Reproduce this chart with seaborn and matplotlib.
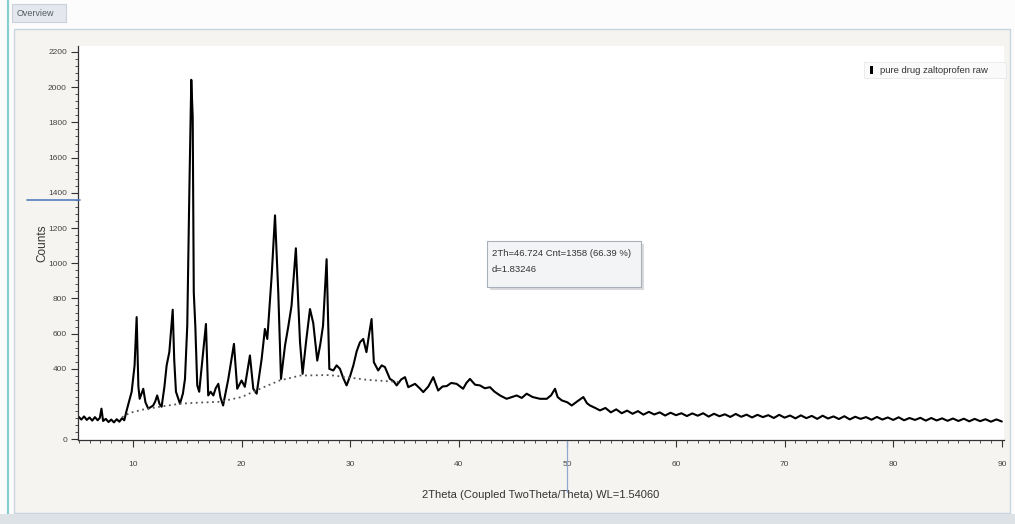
import matplotlib
matplotlib.use("Agg")
import matplotlib.pyplot as plt
from matplotlib.patches import Rectangle
from matplotlib.lines import Line2D
from matplotlib.ticker import MultipleLocator, FixedLocator
import seaborn as sns
import pandas as pd

# Diffractogram of the pure drug (2theta in degrees, intensity in counts)
two_theta = [5.0, 5.25, 5.5, 5.75, 6.0, 6.25, 6.5, 6.75, 6.95, 7.1, 7.25, 7.5, 7.75, 8.0,
             8.25, 8.5, 8.75, 9.0, 9.2, 9.42, 9.88,
             10.15, 10.34, 10.5, 10.62, 10.95, 11.15, 11.41, 11.86, 12.05, 12.23, 12.45, 12.64,
             12.9, 13.1, 13.35, 13.66, 13.8, 13.96, 14.33, 14.6, 14.79, 15.0, 15.19, 15.37,
             15.5, 15.6, 15.74, 15.92, 16.1, 16.4, 16.72, 16.93, 17.15, 17.4, 17.62, 17.86,
             18.05, 18.3, 18.55, 18.78, 19.3, 19.6, 20.0, 20.3, 20.77, 21.08, 21.39, 21.85,
             22.15, 22.37, 22.77, 23.08, 23.38, 23.63, 24.0, 24.3, 24.6, 25.0, 25.38, 25.62,
             25.95, 26.3, 26.6, 26.97, 27.25, 27.5, 27.83, 28.08, 28.45, 28.75, 29.06, 29.35,
             29.67, 30.0, 30.29, 30.6, 30.9, 31.2, 31.5, 31.75, 31.97, 32.18, 32.58, 32.9,
             33.2, 33.66, 34.0, 34.28, 34.7, 35.05, 35.35, 35.97, 36.4, 36.73, 37.2, 37.65,
             38.1, 38.5, 38.88, 39.3, 39.8, 40.4, 40.7, 41.03, 41.5, 41.95, 42.4, 42.87,
             43.3, 43.8, 44.4, 44.9, 45.33, 45.8, 46.25, 46.8, 47.48, 48.1, 48.5, 48.86,
             49.1, 49.48, 50.0, 50.4, 50.9, 51.47, 51.8, 52.08, 52.5,
             53.0, 53.5, 54.0, 54.5, 55.0, 55.5, 56.0, 56.5, 57.0, 57.5, 58.0, 58.5, 59.0,
             59.5, 60.0, 60.5, 61.0, 61.5, 62.0, 62.5, 63.0, 63.5, 64.0, 64.5, 65.0, 65.5,
             66.0, 66.5, 67.0, 67.5, 68.0, 68.5, 69.0, 69.5, 70.0, 70.5, 71.0, 71.5, 72.0,
             72.5, 73.0, 73.5, 74.0, 74.5, 75.0, 75.5, 76.0, 76.5, 77.0, 77.5, 78.0, 78.5,
             79.0, 79.5, 80.0, 80.5, 81.0, 81.5, 82.0, 82.5, 83.0, 83.5, 84.0, 84.5, 85.0,
             85.5, 86.0, 86.5, 87.0, 87.5, 88.0, 88.5, 89.0, 89.5, 90.0]
counts = [128, 112, 130, 110, 124, 106, 126, 108, 122, 174, 104, 116, 98, 112,
          96, 114, 100, 120, 108, 164, 270,
          420, 694, 300, 230, 287, 210, 174, 192, 215, 249, 200, 185,
          300, 419, 496, 736, 450, 270, 202, 260, 343, 645, 1402, 2042,
          1834, 835, 645, 306, 270, 457, 655, 249, 270, 249, 290, 315,
          240, 192, 270, 343, 542, 287, 334, 298, 476, 287, 259, 457,
          627, 570, 928, 1272, 834, 343, 532, 640, 758, 1085, 553, 372,
          560, 740, 660, 447, 540, 645, 1023, 400, 391, 420, 400, 350,
          306, 360, 419, 500, 551, 570, 495, 600, 683, 438, 391, 420,
          410, 343, 330, 306, 340, 353, 296, 315, 290, 268, 300, 353,
          277, 300, 302, 320, 315, 287, 320, 343, 310, 306, 290, 296,
          270, 249, 230, 240, 249, 235, 259, 240, 230, 230, 250, 287,
          240, 221, 210, 192, 215, 240, 205, 192, 180,
          164, 178, 153, 170, 148, 163, 145, 160, 140, 156, 141, 153, 135,
          151, 137, 148, 132, 147, 134, 148, 129, 145, 131, 142, 127, 144,
          128, 140, 124, 139, 126, 137, 121, 139, 123, 135, 119, 136, 120,
          133, 116, 134, 118, 130, 115, 131, 113, 128, 116, 126, 111, 127,
          112, 124, 110, 125, 108, 121, 110, 122, 106, 121, 107, 119, 105,
          118, 104, 117, 102, 116, 103, 114, 100, 113, 101]

# Fitted amorphous background under the crystalline peaks
background_theta = [9.0, 9.7, 11.0, 12.5, 14.33, 16.0, 18.0, 20.0, 21.7, 23.5, 25.4,
                    28.1, 30.0, 31.5, 33.0, 34.5]
background_counts = [125, 150, 170, 185, 202, 208, 213, 240, 287, 334, 362,
                     365, 350, 338, 332, 325]

x_ticks = [10, 20, 30, 40, 50, 60, 70, 80, 90]
y_ticks = [0, 400, 600, 800, 1000, 1200, 1400, 1600, 1800, 2000, 2200]

series_name = "pure drug zaltoprofen raw"
x_title = "2Theta (Coupled TwoTheta/Theta) WL=1.54060"
y_title = "Counts"
cursor_lines = ["2Th=46.724 Cnt=1358 (66.39 %)", "d=1.83246"]

pattern = pd.DataFrame({"two_theta": two_theta, "counts": counts})
background = pd.DataFrame({"two_theta": background_theta, "counts": background_counts})

sns.set_theme(style="white")
plt.rcParams["font.family"] = ["Liberation Sans", "DejaVu Sans"]

W, H = 1015, 524
fig = plt.figure(figsize=(W / 100, H / 100), dpi=100)
fig.patch.set_facecolor("#fcfcfc")


def px(x, y):
    """Pixel position (from top-left) to figure fraction."""
    return x / W, 1 - y / H


# Window chrome: tab, panel, side stripe and bottom band
fig.patches.append(Rectangle(px(14, 513), (1010 - 14) / W, (513 - 29) / H,
                             transform=fig.transFigure, facecolor="#f6f4f1",
                             edgecolor="#c9d5de", linewidth=1.0, zorder=-2))
fig.patches.append(Rectangle(px(12, 22), (66 - 12) / W, 18 / H,
                             transform=fig.transFigure, facecolor="#e4e8ee",
                             edgecolor="#c9d2da", linewidth=0.8, zorder=-2))
fig.text(*px(17, 13), "Overview", fontsize=6.5, color="#555b66", va="center", ha="left")
fig.lines.append(Line2D([8 / W, 8 / W], [0, 1], transform=fig.transFigure,
                        color="#86cfcf", linewidth=1.6, zorder=-1))
fig.patches.append(Rectangle((0, 0), 1, 10 / H, transform=fig.transFigure,
                             facecolor="#dde2e6", edgecolor="none", zorder=-1))

# Plot area
left, right, top, bottom = 78, 1004, 46, 440
ax = fig.add_axes([left / W, 1 - bottom / H, (right - left) / W, (bottom - top) / H])
ax.set_zorder(1)
ax.set_facecolor("white")

sns.lineplot(data=pattern, x="two_theta", y="counts", ax=ax, color="black",
             linewidth=1.5, estimator=None, sort=False, legend=False)
sns.lineplot(data=background, x="two_theta", y="counts", ax=ax, color="#555555",
             linewidth=1.3, linestyle=(0, (1, 2)), estimator=None, sort=False, legend=False)

ax.set_xlim(4.94, 90.2)
ax.set_ylim(-4, 2234)
ax.xaxis.set_major_locator(FixedLocator(x_ticks))
ax.xaxis.set_minor_locator(MultipleLocator(1))
ax.yaxis.set_major_locator(FixedLocator(y_ticks))
ax.yaxis.set_minor_locator(MultipleLocator(40))
ax.tick_params(axis="x", which="major", direction="out", length=5, width=0.8,
               color="#333333", labelsize=6, labelcolor="#444444", pad=10)
ax.tick_params(axis="y", which="major", direction="out", length=5, width=0.8,
               color="#333333", labelsize=6, labelcolor="#444444", pad=3)
ax.tick_params(axis="both", which="minor", direction="out", length=2.5, width=0.6,
               color="#333333")
ax.tick_params(bottom=True, left=True, which="both")
for side in ("top", "right"):
    ax.spines[side].set_visible(False)
for side in ("left", "bottom"):
    ax.spines[side].set_color("#333333")
    ax.spines[side].set_linewidth(0.9)

ax.set_xlabel(x_title, fontsize=8, color="#333333", labelpad=16)
ax.set_ylabel(y_title, fontsize=8.5, color="#333333", labelpad=0)

# Legend entry in the upper right corner
fig.patches.append(Rectangle(px(864, 78), 142 / W, 16 / H, transform=fig.transFigure,
                             facecolor="#fafafa", edgecolor="#e8e8e8", linewidth=0.6, zorder=3))
fig.patches.append(Rectangle(px(870, 74), 3 / W, 8 / H, transform=fig.transFigure,
                             facecolor="black", edgecolor="none", zorder=4))
fig.text(*px(880, 70), series_name, fontsize=6.8, color="#333333", va="center",
         ha="left", zorder=4)

# Cursor readout box
fig.patches.append(Rectangle(px(490, 290), 154 / W, 46 / H, transform=fig.transFigure,
                             facecolor="#d8dadd", edgecolor="none", zorder=3))
fig.patches.append(Rectangle(px(487, 287), 154 / W, 46 / H, transform=fig.transFigure,
                             facecolor="#f3f4f6", edgecolor="#a9b0b8", linewidth=0.8, zorder=4))
fig.text(*px(492, 253), cursor_lines[0], fontsize=6.8, color="#333333", va="center",
         ha="left", zorder=5)
fig.text(*px(492, 270), cursor_lines[1], fontsize=6.8, color="#333333", va="center",
         ha="left", zorder=5)

# Cursor markers on the axes
fig.lines.append(Line2D([27 / W, 80 / W], [1 - 200 / H, 1 - 200 / H], transform=fig.transFigure,
                        color="#4f7fbf", linewidth=1.2, zorder=5))
fig.lines.append(Line2D([567 / W, 567 / W], [1 - 441 / H, 1 - 492 / H], transform=fig.transFigure,
                        color="#8ea8d0", linewidth=0.9, zorder=5))

fig.savefig("out.png", dpi=100, facecolor=fig.get_facecolor())
